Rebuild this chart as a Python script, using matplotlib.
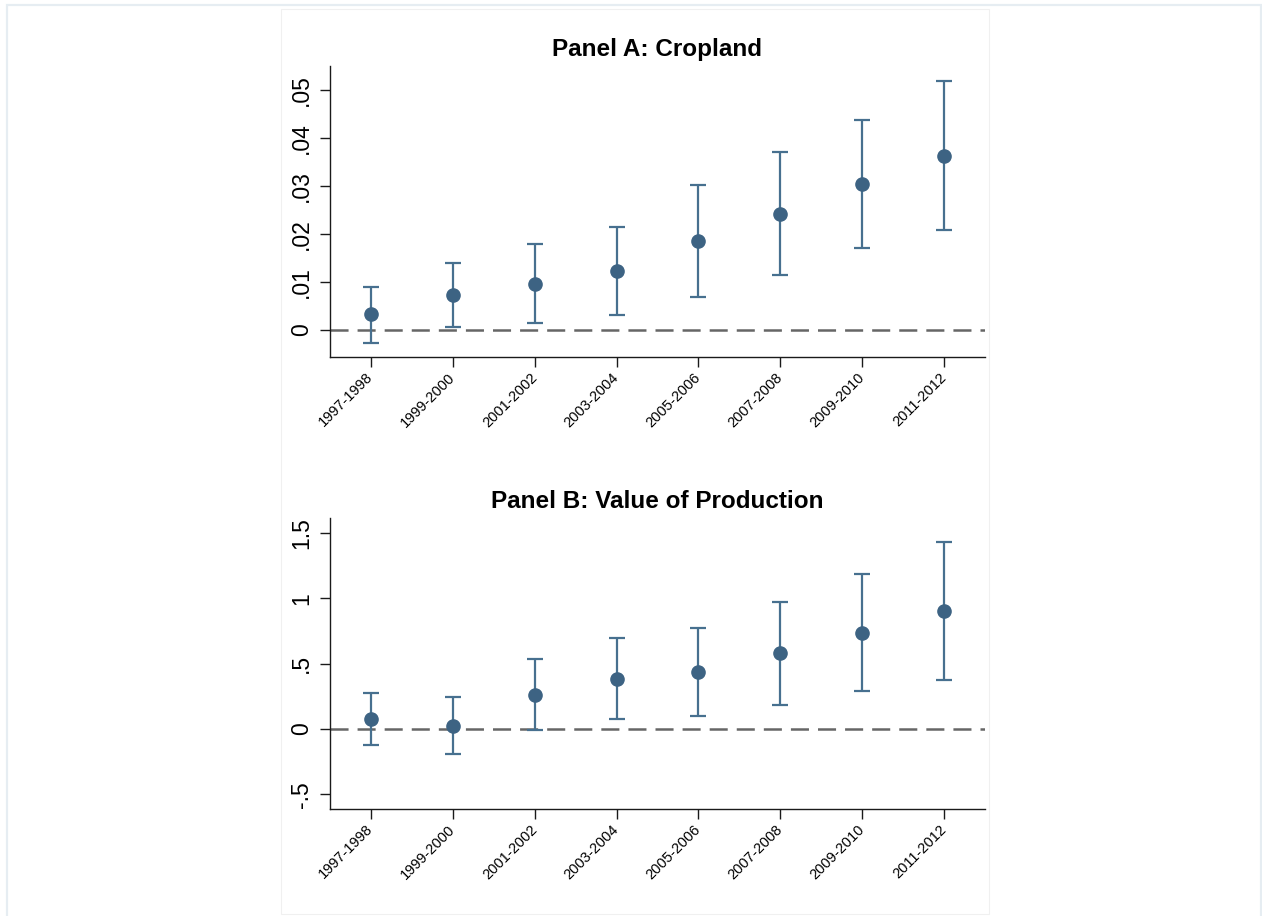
import matplotlib
matplotlib.use("Agg")
import matplotlib.pyplot as plt
from matplotlib.patches import Rectangle

periods = ["1997-1998", "1999-2000", "2001-2002", "2003-2004",
           "2005-2006", "2007-2008", "2009-2010", "2011-2012"]

crop_est = [0.0033, 0.0074, 0.0096, 0.0123, 0.0185, 0.0242, 0.0305, 0.0363]
crop_lo = [-0.0026, 0.0007, 0.0015, 0.0031, 0.0069, 0.0115, 0.0172, 0.0208]
crop_hi = [0.0090, 0.0139, 0.0179, 0.0215, 0.0302, 0.0370, 0.0437, 0.0519]

prod_est = [0.076, 0.025, 0.262, 0.385, 0.436, 0.579, 0.734, 0.902]
prod_lo = [-0.122, -0.191, -0.008, 0.079, 0.100, 0.186, 0.288, 0.377]
prod_hi = [0.278, 0.245, 0.538, 0.698, 0.772, 0.973, 1.183, 1.427]

crop_ticks = [0, 0.01, 0.02, 0.03, 0.04, 0.05]
crop_ticklabels = ["0", ".01", ".02", ".03", ".04", ".05"]
prod_ticks = [-0.5, 0, 0.5, 1, 1.5]
prod_ticklabels = ["-.5", "0", ".5", "1", "1.5"]

plt.rcParams['font.family'] = ['Liberation Sans', 'DejaVu Sans']
plt.rcParams['lines.scale_dashes'] = False

W, H = 1262, 916
fig = plt.figure(figsize=(W / 100, H / 100), dpi=100)
fig.patch.set_facecolor("white")

# frames
fig.add_artist(Rectangle((7 / W, 1 - 925 / H), 1254 / W, 920 / H, transform=fig.transFigure,
                         fill=False, ec="#e6edf2", lw=1.6))
fig.add_artist(Rectangle((281 / W, 1 - 914 / H), 708 / W, 905 / H, transform=fig.transFigure,
                         fill=False, ec="#f0f0f0", lw=0.8))

marker_col = "#3d6383"
bar_col = "#47708f"
line_col = "#666666"

def panel(rect, est, lo, hi, ticks, ticklabels, ylim, title):
    ax = fig.add_axes(rect)
    xs = list(range(1, len(est) + 1))
    yerr = [[e - l for e, l in zip(est, lo)], [h - e for e, h in zip(est, hi)]]
    ax.axhline(0, color=line_col, lw=1.8, dashes=(13, 6.5), zorder=1)
    ax.errorbar(xs, est, yerr=yerr, fmt="none", ecolor=bar_col, elinewidth=1.6,
                capsize=5.5, capthick=1.6, zorder=2)
    ax.plot(xs, est, "o", color=marker_col, ms=9.5, zorder=3)
    ax.set_xlim(0.5, 8.5)
    ax.set_ylim(*ylim)
    ax.set_xticks(xs)
    ax.set_xticklabels(periods, rotation=45, ha="right", va="center",
                       rotation_mode="anchor", fontsize=10.5)
    ax.set_yticks(ticks)
    ax.set_yticklabels(ticklabels, rotation=90, va="center", ha="right", fontsize=16.5)
    for s in ["top", "right"]:
        ax.spines[s].set_visible(False)
    for s in ["left", "bottom"]:
        ax.spines[s].set_color("#1a1a1a")
        ax.spines[s].set_linewidth(1.0)
    ax.tick_params(axis="both", direction="out", length=7, width=1.0, color="#1a1a1a")
    ax.tick_params(axis="y", pad=5)
    ax.tick_params(axis="x", pad=6)
    ax.set_title(title, fontsize=17.5, fontweight="bold", pad=7)
    ax.set_facecolor("white")
    return ax

panel([330 / W, 1 - 357 / H, 655 / W, 291 / H], crop_est, crop_lo, crop_hi,
      crop_ticks, crop_ticklabels, (-0.0056, 0.055), "Panel A: Cropland")
panel([330 / W, 1 - 809 / H, 655 / W, 291 / H], prod_est, prod_lo, prod_hi,
      prod_ticks, prod_ticklabels, (-0.612, 1.613), "Panel B: Value of Production")

fig.savefig("out.png", dpi=100, facecolor="white")
